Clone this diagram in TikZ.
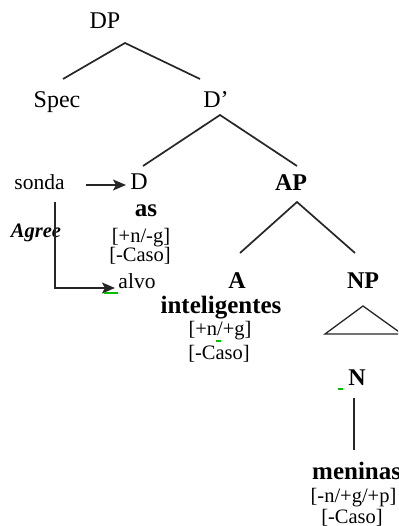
\documentclass[tikz,border=0pt]{standalone}
\usepackage{fontspec}
\setmainfont{Liberation Serif}
\usetikzlibrary{arrows.meta}
\begin{document}
\begin{tikzpicture}[x=1pt,y=-1pt,
  lbl/.style={anchor=base,inner sep=0pt,font=\fontsize{21.5}{20}\selectfont},
  big/.style={anchor=base,inner sep=0pt,font=\fontsize{24}{24}\selectfont},
  bigb/.style={anchor=base,inner sep=0pt,font=\fontsize{24}{24}\selectfont\bfseries},
  bld/.style={anchor=base,inner sep=0pt,font=\fontsize{25}{20}\selectfont\bfseries},
  ft/.style={anchor=base,inner sep=0pt,font=\fontsize{20.5}{20}\selectfont},
  edge/.style={draw=black!85,line width=1.7pt},
  arr/.style={draw=black!85,line width=1.7pt,-{Stealth[length=13pt,width=11pt,inset=3pt]}},
  grn/.style={draw=green!75!black,line width=1.2pt}]
\useasboundingbox (0,0) rectangle (398,526);
\begin{scope}
\clip (0,0) rectangle (398,526);
% nodes
\node[big] (DP) at (105,29) {DP};
\node[big] (Spec) at (57,108) {Spec};
\node[big] (Dbar) at (216,108) {D'};
\node[lbl] (sonda) at (39.5,190) {sonda};
\node[big] (D) at (139,190) {D};
\node[bld] (as) at (146,217) {as};
\node[ft] (fD1) at (141,242) {[+n/-g]};
\node[ft] (fD2) at (140,261) {[-Caso]};
\node[lbl] (alvo) at (137,288) {alvo};
\node[anchor=base,inner sep=0pt,font=\fontsize{20.5}{20}\selectfont\bfseries\itshape] (agree) at (36,237) {Agree};
\node[bigb] (AP) at (291,191) {AP};
\node[bigb] (A) at (237,288) {A};
\node[bigb] (NP) at (363,288) {NP};
\node[bld] (intel) at (221,313) {inteligentes};
\node[ft] (fA1) at (220,335) {[+n/+g]};
\node[ft] (fA2) at (219,359) {[-Caso]};
\node[bigb] (N) at (357,385) {N};
\node[bld,anchor=base west] (men) at (312,479) {meninas};
\node[ft] (fN1) at (353.5,502) {[-n/+g/+p]};
\node[ft] (fN2) at (352,523) {[-Caso]};
% tree coordinates
\coordinate (dpA) at (125,43);
\coordinate (specT) at (63,79);
\coordinate (dbarT) at (200,79);
\coordinate (dbarA) at (220,115);
\coordinate (dT) at (143,166);
\coordinate (apT) at (297,166);
\coordinate (apA) at (297,202);
\coordinate (aT) at (240,253);
\coordinate (npT) at (355,253);
\coordinate (triA) at (363,306);
\coordinate (triL) at (325,334);
\coordinate (triR) at (402,334);
\coordinate (nB) at (354,398);
\coordinate (menT) at (354,450);
\coordinate (sondaE) at (86,185);
\coordinate (dW) at (126,185);
\coordinate (agS) at (55,202);
\coordinate (agC) at (55,288);
\coordinate (alvoW) at (115,288);
% lines
\draw[edge] (specT) -- (dpA) -- (dbarT);
\draw[edge] (dT) -- (dbarA) -- (apT);
\draw[edge] (aT) -- (apA) -- (npT);
\draw[edge,line width=1.3pt] (triL) -- (triA) -- (triR) -- cycle;
\draw[edge] (nB) -- (menT);
\draw[arr] (sondaE) -- (dW);
\draw[arr] (agS) -- (agC) -- (alvoW);
% green marks
\draw[grn] (104,293) -- (118,293);
\draw[grn] (216,341) -- (221,341);
\draw[grn] (338,389) -- (343,389);
\end{scope}
\end{tikzpicture}
\end{document}
